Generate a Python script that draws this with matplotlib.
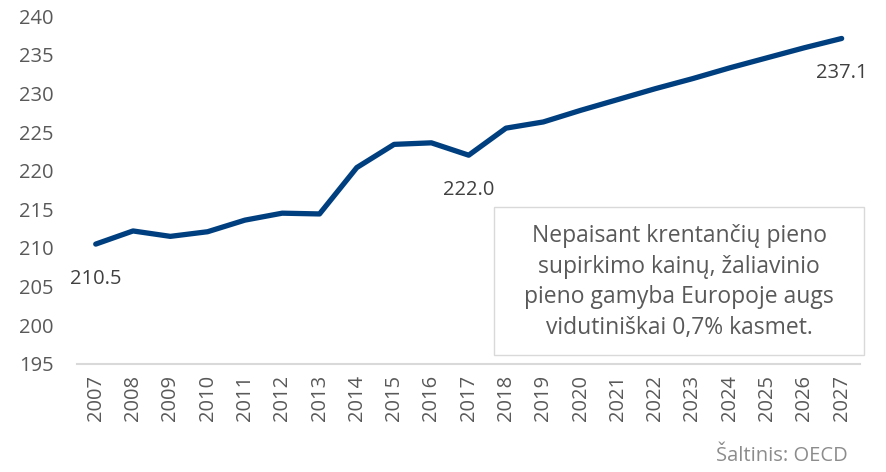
import numpy as np
import matplotlib.pyplot as plt

# data
years = [str(y) for y in range(2007, 2028)]
values = [210.5, 212.2, 211.5, 212.1, 213.6, 214.5, 214.4, 220.4, 223.4, 223.6,
          222.0, 225.5, 226.3, 227.8, 229.2, 230.6, 231.9, 233.3, 234.6, 235.9, 237.1]
labelled = ['2007', '2017', '2027']
note = ("Nepaisant krentančių pieno\nsupirkimo kainų, žaliavinio\n"
        "pieno gamyba Europoje augs\nvidutiniškai 0,7% kasmet.")
source = "Šaltinis: OECD"

plt.rcParams['font.family'] = ['Open Sans', 'DejaVu Sans']
txt_col = '#595959'

fig = plt.figure(figsize=(8.86, 4.72), dpi=100)
ax = fig.add_axes([0.087, 0.229, 0.884, 0.737])

x = np.arange(len(years))
ax.plot(x, values, color='#003f7f', linewidth=3.8, solid_capstyle='round', solid_joinstyle='round')

# data labels below selected points
for yr in labelled:
    i = years.index(yr)
    ax.annotate(f"{values[i]:.1f}", (x[i], values[i]), xytext=(0, -25), textcoords='offset points',
                ha='center', va='center', fontsize=14.5, color='#404040')

ax.set_xlim(-0.5, len(years) - 0.5)
ax.set_ylim(195, 240)
ax.set_yticks(np.arange(195, 241, 5))
ax.set_xticks(x)
ax.set_xticklabels(years, rotation=90)
ax.tick_params(axis='both', length=0, labelsize=14.5, labelcolor=txt_col)
ax.tick_params(axis='y', pad=17)
ax.tick_params(axis='x', pad=8)

for s in ['top', 'right', 'left']:
    ax.spines[s].set_visible(False)
ax.spines['bottom'].set_color('#d9d9d9')
ax.spines['bottom'].set_linewidth(1.5)

# text box with comment
fig.patches.append(plt.Rectangle((494 / 886, 1 - 355 / 472), 370 / 886, 148 / 472,
                                 transform=fig.transFigure, facecolor='white',
                                 edgecolor='#d9d9d9', linewidth=1))
fig.text(679 / 886, 1 - 282 / 472, note, ha='center', va='center', fontsize=16.5,
         color=txt_col, linespacing=1.38)

fig.text(848 / 886, 1 - 456 / 472, source, ha='right', va='center', fontsize=14.5, color='#8c8c8c')

fig.savefig('out.png', dpi=100)
